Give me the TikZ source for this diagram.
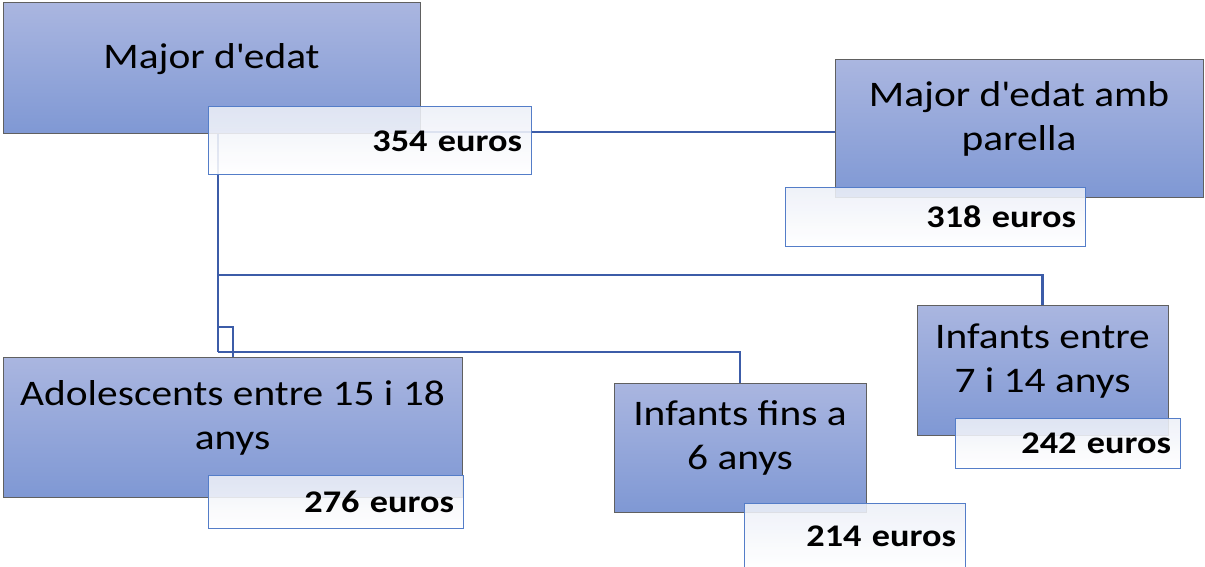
\documentclass[tikz,border=0pt]{standalone}
\usepackage{fontspec}
\setmainfont{Carlito}[FakeStretch=1.15]
\usepackage{tikz}
\usetikzlibrary{backgrounds, positioning}
\definecolor{boxtop}{RGB}{170,182,224}
\definecolor{boxbot}{RGB}{127,152,212}
\definecolor{boxline}{RGB}{96,96,96}
\definecolor{tagline}{RGB}{84,125,200}
\definecolor{tagtop}{RGB}{236,239,247}
\definecolor{linkblue}{RGB}{60,92,168}

\begin{document}
\begin{tikzpicture}[x=1pt, y=-1pt]
\tikzstyle{person}=[rectangle, draw=boxline, line width=1pt, top color=boxtop, bottom color=boxbot, align=center, text depth=24pt, font=\fontsize{36}{44}\selectfont]
\tikzstyle{amount}=[rectangle, draw=tagline, line width=1pt, top color=tagtop, bottom color=white, fill opacity=0.88, text opacity=1, align=right, inner xsep=9pt, font=\bfseries\fontsize{31.5}{36}\selectfont]
\tikzstyle{link}=[-, line width=2.2pt, draw=linkblue]
\useasboundingbox (0,0) rectangle (1205,567);
\node[person, minimum width=417pt, minimum height=131pt] (major) at (211.5,68.5) {Major d\textquotesingle edat};
\node[person, minimum width=368pt, minimum height=137pt] (partner) at (1019,128.5) {Major d\textquotesingle edat amb\\parella};
\node[person, minimum width=251pt, minimum height=130pt] (infants7) at (1042.5,370) {Infants entre\\7 i 14 anys};
\node[person, minimum width=459pt, minimum height=140pt] (adol) at (232.5,427) {Adolescents entre 15 i 18\\anys};
\node[person, minimum width=252pt, minimum height=129pt] (infants6) at (740,447.5) {Infants fins a\\6 anys};
\node[amount, minimum width=323pt, text width=305pt, minimum height=68pt] (m354) at (369.5,141) {354 euros};
\node[amount, minimum width=300pt, text width=282pt, minimum height=59pt] (p318) at (935,216.5) {318 euros};
\node[amount, minimum width=225pt, text width=207pt, minimum height=50pt] (i242) at (1067.5,443) {242 euros};
\node[amount, minimum width=255pt, text width=237pt, minimum height=53pt] (a276) at (335.5,501.5) {276 euros};
\node[amount, minimum width=221pt, text width=203pt, minimum height=66pt] (i214) at (854.5,536) {214 euros};
\coordinate (trunk) at (218,132);
\coordinate (fork7) at (218,275);
\coordinate (forka) at (218,327);
\coordinate (fork6) at (218,352);
\coordinate (adoltop) at (233,357);
\begin{pgfonlayer}{background}
\path (trunk) edge [link] (trunk -| partner.west);
\path (trunk) edge [link] (fork6);
\draw[link] (fork7) -| (infants7.north);
\draw[link] (forka) -| (adoltop);
\draw[link] (fork6) -| (infants6.north);
\end{pgfonlayer}
\end{tikzpicture}
\end{document}
